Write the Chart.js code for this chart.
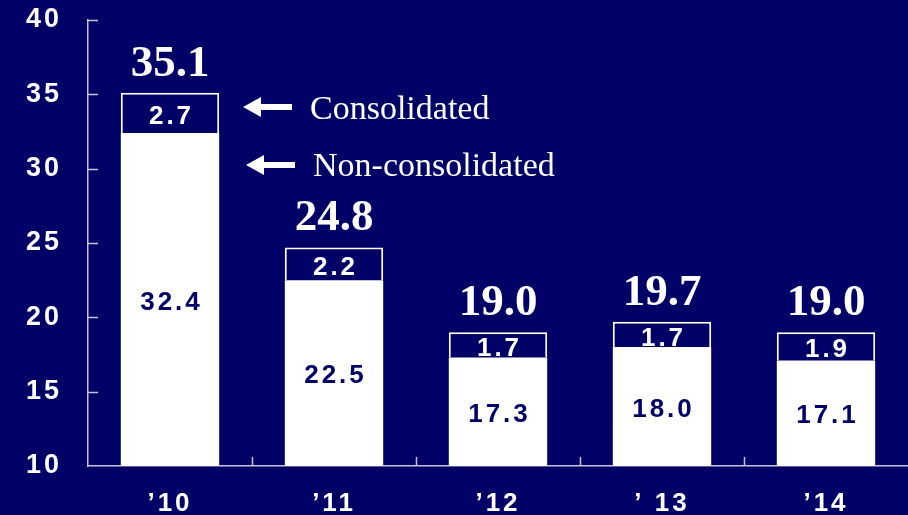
<!DOCTYPE html>
<html>
<head>
<meta charset="utf-8">
<script src="https://cdn.jsdelivr.net/npm/chart.js@4.4.1/dist/chart.umd.min.js"></script>
<style>
  html, body { margin: 0; padding: 0; background: #000066; }
  #wrap { width: 908px; height: 515px; }
</style>
</head>
<body>
<div id="wrap"><canvas id="my-chart"></canvas></div>
<script>
//Chart data
let years = ['\u201910', '\u201911', '\u201912', '\u2019 13', '\u201914'];
let nonConsolidated = [32.4, 22.5, 17.3, 18.0, 17.1];
let consolidated = [2.7, 2.2, 1.7, 1.7, 1.9];
let totals = [35.1, 24.8, 19.0, 19.7, 19.0];
let yTicks = [10, 15, 20, 25, 30, 35, 40];

//Styles
const NAVY = '#000066';
const AXIS = '#c4c4d6';
const SANS = '"Liberation Sans", Arial, sans-serif';
const SERIF = '"Liberation Serif", "Times New Roman", serif';
const SPACING = '3px';

let ctx = document.getElementById('my-chart');

function drawArrow(c, tipX, tailX, y) {
  c.beginPath();
  c.moveTo(tipX, y);
  c.lineTo(tipX + 18, y - 10);
  c.lineTo(tipX + 18, y - 3);
  c.lineTo(tailX, y - 3);
  c.lineTo(tailX, y + 3);
  c.lineTo(tipX + 18, y + 3);
  c.lineTo(tipX + 18, y + 10);
  c.closePath();
  c.fill();
}

//background, value labels, inside ticks and the two notes
let chartDecor = {
  id: 'chartDecor',
  beforeDraw(chart) {
    let c = chart.ctx;
    c.save();
    c.fillStyle = NAVY;
    c.fillRect(0, 0, chart.width, chart.height);
    c.restore();
    c.letterSpacing = SPACING; // wide tick labels
  },
  afterDatasetsDraw(chart) {
    let c = chart.ctx;
    let area = chart.chartArea;
    let lower = chart.getDatasetMeta(0).data;
    let upper = chart.getDatasetMeta(1).data;

    c.save();
    c.letterSpacing = SPACING;
    c.font = 'bold 26px ' + SANS;
    c.textAlign = 'center';
    c.textBaseline = 'middle';

    lower.forEach((bar, i) => {
      let bottom = Math.min(bar.base, area.bottom);
      c.fillStyle = NAVY;
      c.fillText(nonConsolidated[i].toFixed(1), bar.x + 1.5, (bar.y + bottom) / 2 + 3);
    });

    // consolidated value is clipped to its own segment
    upper.forEach((bar, i) => {
      c.save();
      c.beginPath();
      c.rect(bar.x - bar.width / 2, bar.y, bar.width, bar.base - bar.y);
      c.clip();
      c.fillStyle = 'white';
      c.fillText(consolidated[i].toFixed(1), bar.x + 1.5, (bar.y + bar.base) / 2 + 4);
      c.restore();
    });

    c.letterSpacing = '0px';
    c.font = 'bold 45px ' + SERIF;
    c.textBaseline = 'alphabetic';
    c.fillStyle = 'white';
    upper.forEach((bar, i) => {
      c.fillText(totals[i].toFixed(1), bar.x, bar.y - 17);
    });
    c.restore();
  },
  afterDraw(chart) {
    let c = chart.ctx;
    let area = chart.chartArea;
    let yScale = chart.scales.y;
    let step = (area.right - area.left) / years.length;

    c.save();
    c.strokeStyle = AXIS;
    c.lineWidth = 1.5;
    c.beginPath();
    yTicks.slice(1).forEach(v => {
      let y = Math.round(yScale.getPixelForValue(v)) + 0.5;
      c.moveTo(area.left, y);
      c.lineTo(area.left + 10, y);
    });
    for (let i = 1; i < years.length; i++) {
      let x = Math.round(area.left + i * step) + 0.5;
      c.moveTo(x, area.bottom);
      c.lineTo(x, area.bottom - 9);
    }
    c.stroke();

    c.fillStyle = 'white';
    drawArrow(c, 243, 292, 107);
    drawArrow(c, 246, 295, 165);
    c.letterSpacing = '0px';
    c.font = '34px ' + SERIF;
    c.textAlign = 'left';
    c.textBaseline = 'alphabetic';
    c.fillText('Consolidated', 310, 119);
    c.fillText('Non-consolidated', 313, 176);
    c.restore();
  }
};

let chartObject = {
  type: 'bar',
  data: {
    labels: years,
    datasets: [{
      label: 'Non-consolidated',
      data: nonConsolidated,
      backgroundColor: 'white',
      borderColor: 'white',
      borderWidth: 0
    },
    {
      label: 'Consolidated',
      data: consolidated,
      backgroundColor: NAVY,
      borderColor: 'white',
      borderWidth: 2
    }]
  },
  options: {
    responsive: true,
    maintainAspectRatio: false,
    animation: false,
    layout: { padding: { top: 20, left: 0, right: 0, bottom: 0 } },
    plugins: {
      legend: { display: false },
      tooltip: { enabled: false }
    },
    datasets: {
      bar: { categoryPercentage: 1, barPercentage: 0.6 }
    },
    scales: {
      x: {
        stacked: true,
        afterFit(scale) { scale.height = 49; },
        grid: { display: false, drawTicks: false },
        border: { display: true, color: AXIS, width: 1.5 },
        ticks: {
          color: 'white',
          font: { family: SANS, size: 26, weight: 'bold' },
          padding: 22
        }
      },
      y: {
        stacked: true,
        min: 10,
        max: 40,
        afterFit(scale) {
          scale.width = 88;
          scale.paddingTop = 0;
          scale.paddingBottom = 0;
        },
        afterBuildTicks(scale) { scale.ticks = yTicks.map(v => ({ value: v })); },
        grid: { display: false, drawTicks: false },
        border: { display: true, color: AXIS, width: 1.5 },
        ticks: {
          color: 'white',
          font: { family: SANS, size: 27, weight: 'bold' },
          padding: 26
        }
      }
    }
  },
  plugins: [chartDecor]
};

const myChart = new Chart(ctx, chartObject); //eslint-disable-line
</script>
</body>
</html>
